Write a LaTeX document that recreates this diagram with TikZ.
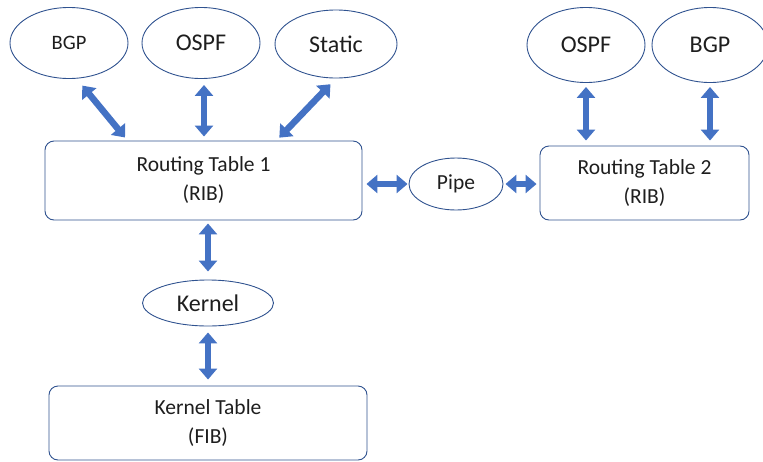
\documentclass[tikz,border=0pt]{standalone}
\usepackage{fontspec}
\setmainfont{Carlito}
\usetikzlibrary{arrows.meta}
\usetikzlibrary{shapes}
\definecolor{edgeblue}{RGB}{47,82,143}
\definecolor{arrowblue}{RGB}{68,114,196}
\definecolor{textgray}{RGB}{30,30,30}

\begin{document}
\begin{tikzpicture}[x = 1pt, y = -1pt, text = textgray]
	\tikzstyle{ellipseStyle} = [shape = ellipse, draw = edgeblue, line width = 0.9pt, inner sep = 0pt]
	\tikzstyle{tableStyle} = [shape = rectangle, rounded corners = 9pt, draw = edgeblue, line width = 0.9pt, inner sep = 0pt, align = center, font = \fontsize{21.5}{29}\selectfont]
	\tikzstyle{arrowStyle} = [draw = arrowblue, line width = 6.5pt, {Triangle[width = 18pt, length = 11pt]}-{Triangle[width = 18pt, length = 11pt]}]
	\useasboundingbox (0, 0) rectangle (763, 461);
	\node[ellipseStyle, minimum width = 118pt, minimum height = 71pt, font = \fontsize{20.5}{24}\selectfont] (bgp1) at (69, 43) {BGP};
	\node[ellipseStyle, minimum width = 118pt, minimum height = 71pt, font = \fontsize{24}{28}\selectfont] (ospf1) at (201, 43) {OSPF};
	\node[ellipseStyle, minimum width = 122pt, minimum height = 68pt, font = \fontsize{24}{28}\selectfont] (static1) at (336, 44) {Static};
	\node[ellipseStyle, minimum width = 118pt, minimum height = 75pt, font = \fontsize{24}{28}\selectfont] (ospf2) at (586, 45) {OSPF};
	\node[ellipseStyle, minimum width = 116pt, minimum height = 75pt, font = \fontsize{24}{28}\selectfont] (bgp2) at (710, 45) {BGP};
	\node[tableStyle, minimum width = 317pt, minimum height = 79pt] (rt1) at (203.5, 180.5) {Routing Table 1\\(RIB)};
	\node[ellipseStyle, minimum width = 94pt, minimum height = 52pt, font = \fontsize{21.5}{26}\selectfont] (pipe) at (456, 184) {Pipe};
	\node[tableStyle, minimum width = 209pt, minimum height = 74pt] (rt2) at (644.5, 183) {Routing Table 2\\(RIB)};
	\node[ellipseStyle, minimum width = 131pt, minimum height = 46pt, font = \fontsize{24}{28}\selectfont] (kernel) at (208, 303) {Kernel};
	\node[tableStyle, minimum width = 318pt, minimum height = 74pt] (kt) at (208, 423) {Kernel Table\\(FIB)};
	\draw[arrowStyle, shorten < = 9pt, shorten > = 4pt] (bgp1.282) -- ([xshift = 83pt]rt1.north west);
	\draw[arrowStyle, shorten < = 6pt, shorten > = 4pt] ([xshift = 3pt]ospf1.south) -- ([xshift = 3pt]ospf1.south |- rt1.north);
	\draw[arrowStyle, shorten < = 8pt, shorten > = 4pt] (static1.south) -- ([xshift = 232pt]rt1.north west);
	\draw[arrowStyle, shorten < = 4pt, shorten > = 5pt] (ospf2.south) -- (ospf2.south |- rt2.north);
	\draw[arrowStyle, shorten < = 4pt, shorten > = 5pt] (bgp2.south) -- (bgp2.south |- rt2.north);
	\draw[arrowStyle, shorten < = 4pt, shorten > = 1pt] (pipe.west -| rt1.east) -- (pipe.west);
	\draw[arrowStyle, shorten < = 2pt, shorten > = 3pt] (pipe.east) -- (pipe.east -| rt2.west);
	\draw[arrowStyle, shorten < = 3pt, shorten > = 8pt] (kernel.north |- rt1.south) -- (kernel.north);
	\draw[arrowStyle, shorten < = 6pt, shorten > = 6pt] (kernel.south) -- (kernel.south |- kt.north);
\end{tikzpicture}
\end{document}
